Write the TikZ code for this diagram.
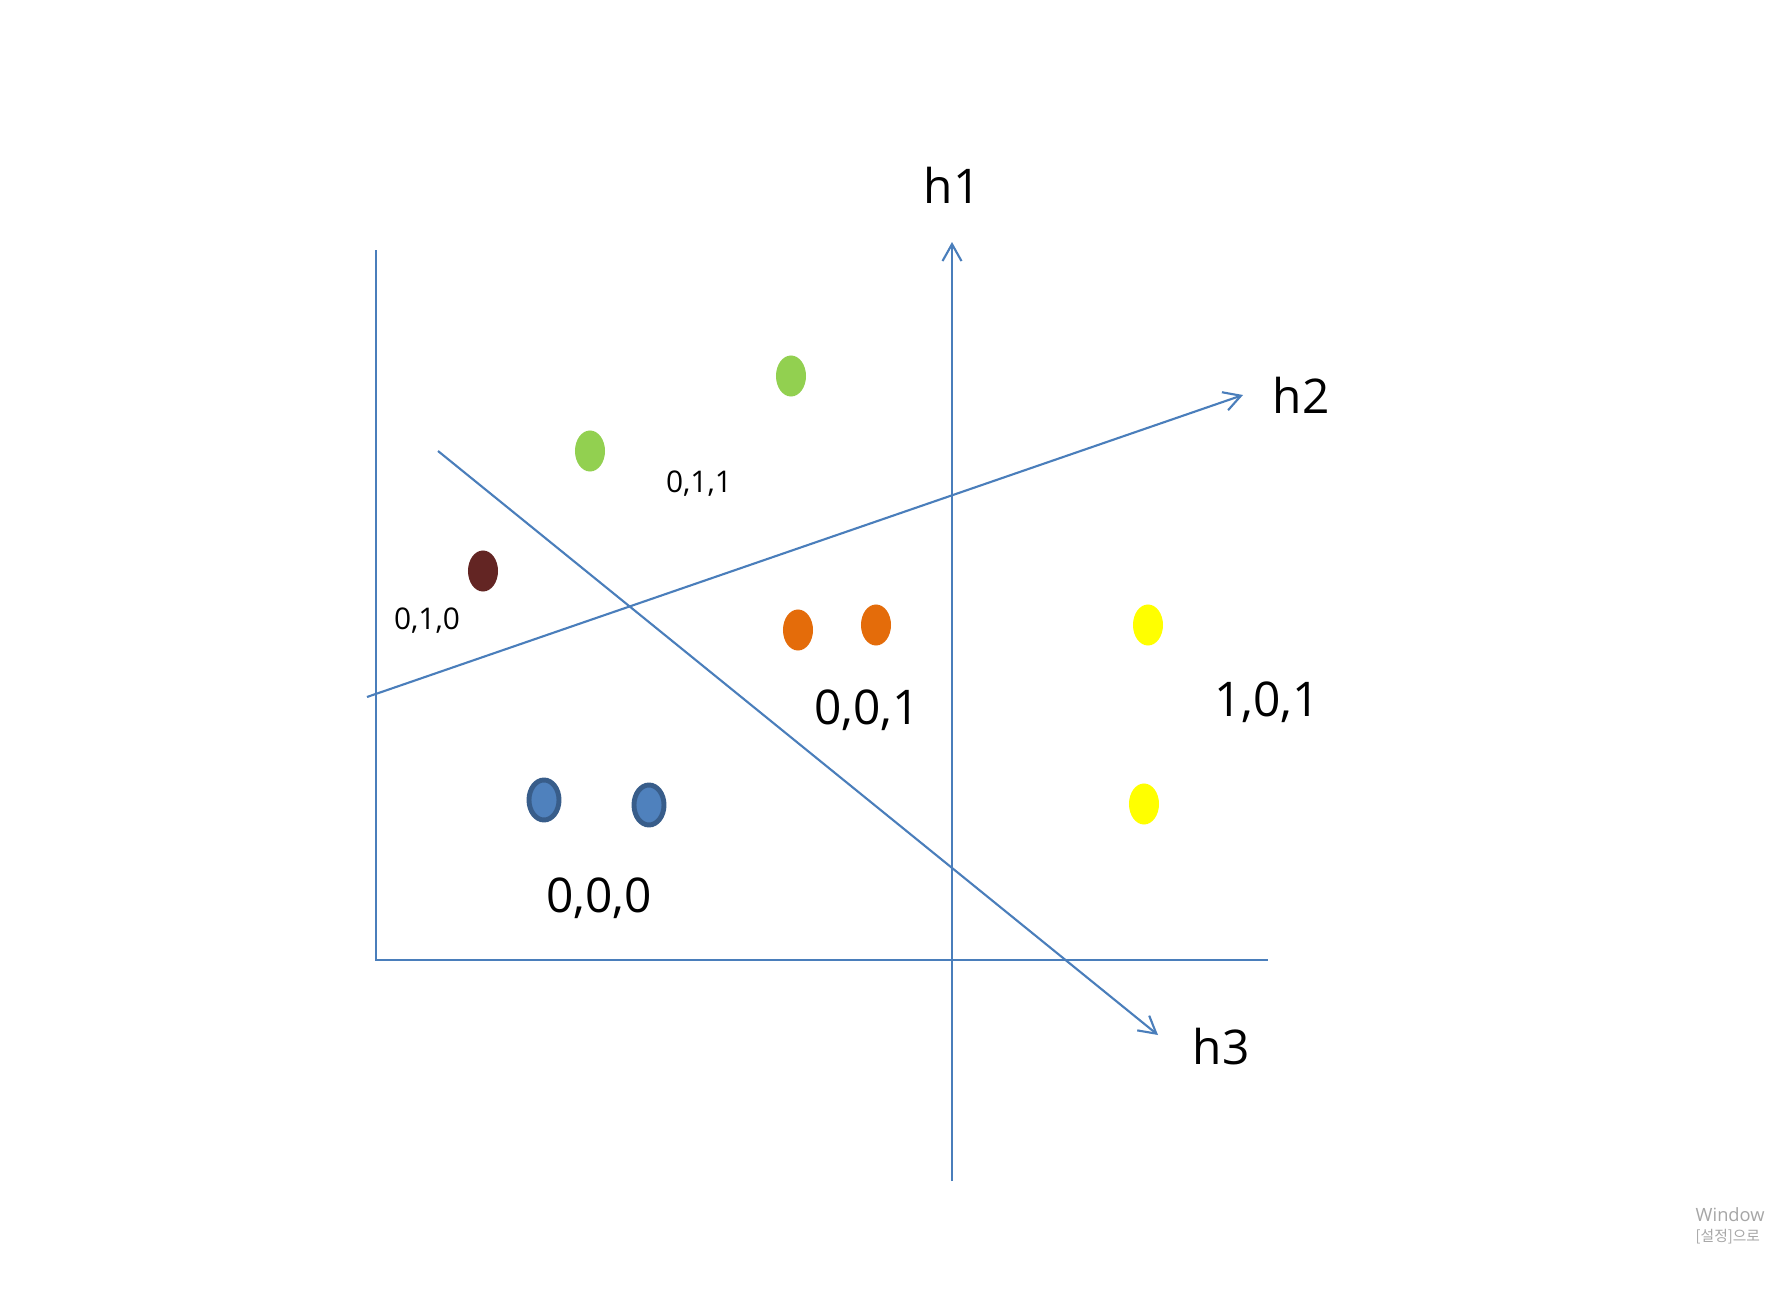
\documentclass[tikz,border=0pt]{standalone}
\usepackage{fontspec}
\setmainfont{Open Sans}
\newfontfamily\krfont{Noto Sans CJK KR}
\usepackage{tikz}
\usetikzlibrary{shapes.geometric,arrows.meta}
\definecolor{lineblue}{HTML}{4A7EBB}
\definecolor{dotblue}{HTML}{4F81BD}
\definecolor{dotblueedge}{HTML}{385D8A}
\definecolor{dotgreen}{HTML}{92D050}
\definecolor{dotmaroon}{HTML}{632523}
\definecolor{dotorange}{HTML}{E46C0A}
\definecolor{dotyellow}{HTML}{FFFF00}
\tikzset{
  hdot/.style={ellipse, minimum width=0.30cm, minimum height=0.41cm, inner sep=0pt},
  hdotblue/.style={hdot, fill=dotblue, draw=dotblueedge, line width=1.4pt, minimum width=0.30cm, minimum height=0.40cm},
  hline/.style={draw=lineblue, line width=0.6pt},
  harrow/.style={hline, -{Straight Barb[length=4.8pt,width=5.4pt]}},
  hlabel/.style={font=\fontsize{13.6}{16}\selectfont, inner sep=0pt},
  hcode/.style={font=\fontsize{8.5}{10}\selectfont, inner sep=0pt},
  wmark/.style={text=black!35, anchor=west, inner sep=0pt},
}

\begin{document}
\begin{tikzpicture}[x=0.01cm, y=-0.01cm]
  \useasboundingbox[fill=white] (0,0) rectangle (1765,1315);
  % axes
  \coordinate (yTop) at (376,250);
  \coordinate (origin) at (376,960);
  \coordinate (xEnd) at (1268,960);
  \draw[hline] (yTop) -- (origin) -- (xEnd);
  % hyperplanes
  \coordinate (h1s) at (952,1181);
  \coordinate (h1e) at (952,242);
  \coordinate (h2s) at (367,697);
  \coordinate (h2e) at (1243,395);
  \coordinate (h3s) at (438,451);
  \coordinate (h3e) at (1158,1035);
  \draw[harrow] (h1s) -- (h1e);
  \draw[harrow] (h2s) -- (h2e);
  \draw[harrow] (h3s) -- (h3e);
  \node (lh1) [hlabel] at (952,185) {h1};
  \node (lh2) [hlabel] at (1301,395) {h2};
  \node (lh3) [hlabel] at (1221,1047) {h3};
  % points
  \node (g1) [hdot, fill=dotgreen] at (791,376) {};
  \node (g2) [hdot, fill=dotgreen] at (590,451) {};
  \node (m1) [hdot, fill=dotmaroon] at (483,571) {};
  \node (o1) [hdot, fill=dotorange] at (798,630) {};
  \node (o2) [hdot, fill=dotorange] at (876,625) {};
  \node (y1) [hdot, fill=dotyellow] at (1148,625) {};
  \node (y2) [hdot, fill=dotyellow] at (1144,804) {};
  \node (b1) [hdotblue] at (544,800) {};
  \node (b2) [hdotblue] at (649,805) {};
  % region codes
  \node (c011) [hcode] at (699,484) {0,1,1};
  \node (c010) [hcode] at (427,621) {0,1,0};
  \node (c001) [hlabel] at (867,710) {0,0,1};
  \node (c101) [hlabel] at (1267,702) {1,0,1};
  \node (c000) [hlabel] at (599,898) {0,0,0};
  % watermark
  \node (wm1) [wmark, font=\fontsize{5.2}{6}\selectfont] at (1695,1215) {Window};
  \node (wm2) [wmark, font=\krfont\fontsize{4.2}{5}\selectfont] at (1695,1237) {[설정]으로};
\end{tikzpicture}
\end{document}
